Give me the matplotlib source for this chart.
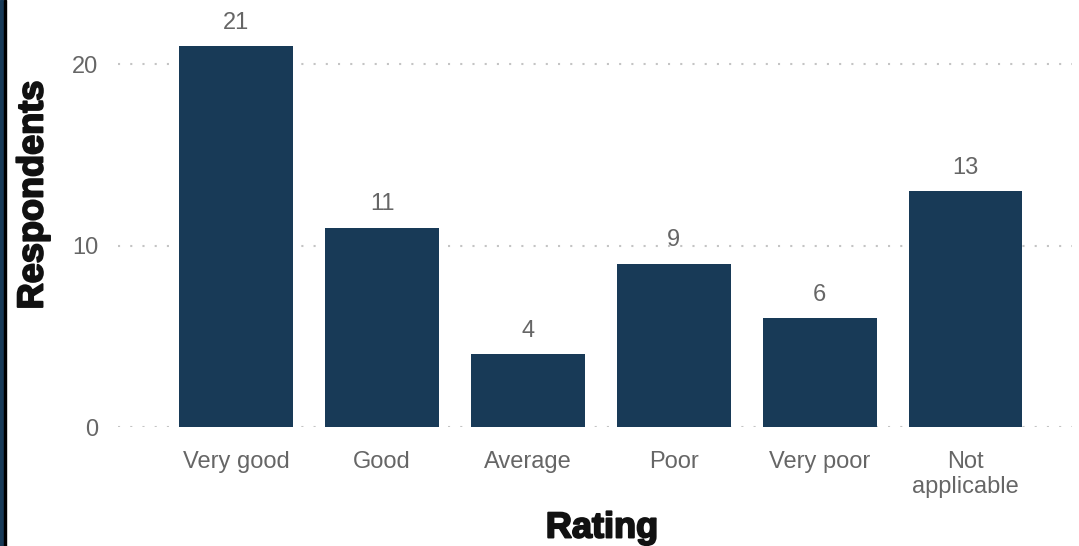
import matplotlib.pyplot as plt
import matplotlib.patheffects as pe
from matplotlib.patches import Rectangle

categories = ["Very good", "Good", "Average", "Poor", "Very poor", "Not\napplicable"]
respondents = [21, 11, 4, 9, 6, 13]
yticks = [0, 10, 20]

plt.rcParams['font.family'] = ['Liberation Sans', 'DejaVu Sans']
plt.rcParams['lines.scale_dashes'] = False

W, H = 1079, 546
fig = plt.figure(figsize=(W / 100, H / 100), dpi=100)
ax = fig.add_axes([118 / W, 1 - 427 / H, (1072 - 118) / W, (427 - 10) / H])

x = list(range(len(categories)))
ax.bar(x, respondents, width=0.78, color="#183a57", zorder=3)
for i, v in enumerate(respondents):
    ax.text(i, v + 0.7, str(v), ha="center", va="bottom", fontsize=17, color="#666666")

ax.set_xlim(-0.81, 5.73)
ax.set_ylim(0, 23)
ax.set_yticks(yticks)
ax.set_xticks(x)
ax.set_xticklabels(categories)
ax.tick_params(axis="both", length=0, labelsize=17, labelcolor="#666666")
ax.tick_params(axis="y", pad=14)
ax.tick_params(axis="x", pad=17)
ax.grid(axis="y", color="#c4c4c4", linewidth=1.5, linestyle=(0, (1.5, 7.3)), zorder=0)
for s in ax.spines.values():
    s.set_visible(False)

# heavier titles, close to the black-weight font of the original
heavy = [pe.withStroke(linewidth=1.4, foreground="#111111")]
fig.text(33 / W, 1 - 195 / H, "Respondents", rotation=90, ha="center", va="center",
         fontsize=26, fontweight="bold", color="#111111", path_effects=heavy)
fig.text(602 / W, 1 - 528 / H, "Rating", ha="center", va="center",
         fontsize=26, fontweight="bold", color="#111111", path_effects=heavy)

# left border strips
fig.patches.append(Rectangle((0, 0), 3 / W, 1, transform=fig.transFigure, color="#183a57"))
fig.patches.append(Rectangle((4 / W, 0), 2 / W, 1, transform=fig.transFigure, color="#000000"))

fig.savefig("out.png", dpi=100)
